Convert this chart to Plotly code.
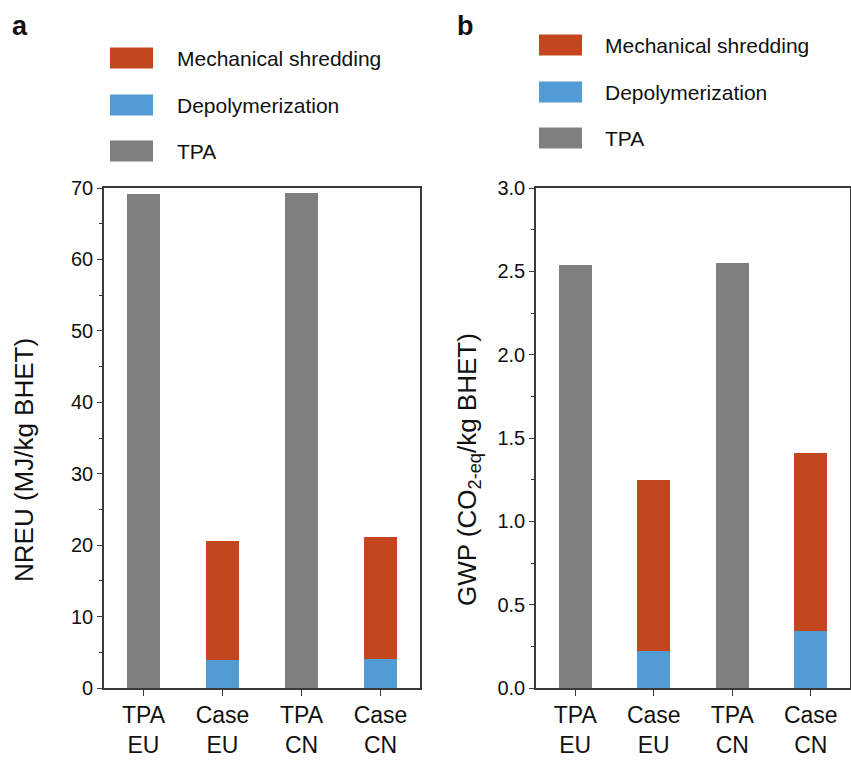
import plotly.graph_objects as go

# Scenario categories and tick labels
categories = ["TPA EU", "Case EU", "TPA CN", "Case CN"]
tick_labels = ["TPA<br>EU", "Case<br>EU", "TPA<br>CN", "Case<br>CN"]

# Panel a: non-renewable energy use (MJ/kg BHET)
nreu_tpa = [69.2, None, 69.3, None]
nreu_depol = [None, 3.9, None, 4.1]
nreu_shred = [None, 16.7, None, 17.0]

# Panel b: global warming potential (kg CO2-eq/kg BHET)
gwp_tpa = [2.54, None, 2.55, None]
gwp_depol = [None, 0.22, None, 0.34]
gwp_shred = [None, 1.03, None, 1.07]

series_names = ["Mechanical shredding", "Depolymerization", "TPA"]
RED = "#C4461F"
BLUE = "#529BD3"
GRAY = "#7F7F7F"
FONT = "Arial, Liberation Sans, sans-serif"

W, H = 851, 760


def fx(px):
    return px / W


def fy(py):
    return 1 - py / H


fig = go.Figure()


def add_panel(xa, ya, tpa, depol, shred):
    for vals, name, color in [(tpa, "TPA", GRAY), (depol, "Depolymerization", BLUE),
                              (shred, "Mechanical shredding", RED)]:
        fig.add_trace(go.Bar(x=categories, y=vals, name=name, marker_color=color,
                             marker_line_width=0, width=0.42, xaxis=xa, yaxis=ya,
                             showlegend=False))


add_panel("x", "y", nreu_tpa, nreu_depol, nreu_shred)
add_panel("x2", "y2", gwp_tpa, gwp_depol, gwp_shred)

axis_line = dict(showline=True, linecolor="#3a3a3a", linewidth=1.6, mirror=True,
                 showgrid=False, zeroline=False, automargin=False)

xcommon = dict(axis_line, type="category", tickvals=categories, ticktext=tick_labels,
               ticks="outside", ticklen=6, tickwidth=1.4, tickcolor="#3a3a3a",
               range=[-0.5, 3.5], tickfont=dict(family=FONT, size=23, color="#111"))

fig.update_layout(
    width=W, height=H, margin=dict(l=0, r=0, t=0, b=0, autoexpand=False),
    paper_bgcolor="white", plot_bgcolor="white", barmode="stack",
    showlegend=False,
    xaxis=dict(xcommon, domain=[fx(104), fx(420)], anchor="y"),
    xaxis2=dict(xcommon, domain=[fx(536), fx(850)], anchor="y2"),
    yaxis=dict(axis_line, domain=[fy(688), fy(188)], anchor="x", range=[0, 70],
               dtick=10, ticks="outside", ticklen=5, tickwidth=1.4, tickcolor="#3a3a3a",
               minor=dict(dtick=5, ticks="outside", ticklen=3, tickwidth=1.2,
                          tickcolor="#3a3a3a"),
               tickfont=dict(family=FONT, size=20, color="#111")),
    yaxis2=dict(axis_line, domain=[fy(688), fy(188)], anchor="x2", range=[0, 3],
                dtick=0.5, tickformat=".1f", ticks="outside", ticklen=5, tickwidth=1.4,
                tickcolor="#3a3a3a",
                minor=dict(dtick=0.25, ticks="outside", ticklen=3, tickwidth=1.2,
                           tickcolor="#3a3a3a"),
                tickfont=dict(family=FONT, size=20, color="#111")),
)

annotations = []
shapes = []

# Axis titles
annotations.append(dict(text="NREU (MJ/kg BHET)", x=fx(24), y=fy(460), xref="paper",
                        yref="paper", showarrow=False, textangle=-90,
                        font=dict(family=FONT, size=26, color="#111"),
                        xanchor="center", yanchor="middle"))
annotations.append(dict(text="GWP (CO<sub>2-eq</sub>/kg BHET)", x=fx(468), y=fy(470),
                        xref="paper", yref="paper", showarrow=False, textangle=-90,
                        font=dict(family=FONT, size=26, color="#111"),
                        xanchor="center", yanchor="middle"))

# Panel letters
for letter, px in [("a", 20), ("b", 465)]:
    annotations.append(dict(text="<b>%s</b>" % letter, x=fx(px), y=fy(26), xref="paper",
                            yref="paper", showarrow=False,
                            font=dict(family=FONT, size=27, color="#111"),
                            xanchor="center", yanchor="middle"))

# Legends drawn as swatches with labels
legend_colors = [RED, BLUE, GRAY]
for sx, tx, rows in [(110, 175, [58, 105, 151]), (539, 603, [45, 92, 138])]:
    for name, color, cy in zip(series_names, legend_colors, rows):
        shapes.append(dict(type="rect", xref="paper", yref="paper",
                           x0=fx(sx), x1=fx(sx + 43), y0=fy(cy + 10.5), y1=fy(cy - 10.5),
                           fillcolor=color, line=dict(width=0)))
        annotations.append(dict(text=name, x=fx(tx), y=fy(cy), xref="paper",
                                yref="paper", showarrow=False,
                                font=dict(family=FONT, size=21, color="#111"),
                                xanchor="left", yanchor="middle"))

fig.update_layout(annotations=annotations, shapes=shapes)

fig.write_html("out.html")
